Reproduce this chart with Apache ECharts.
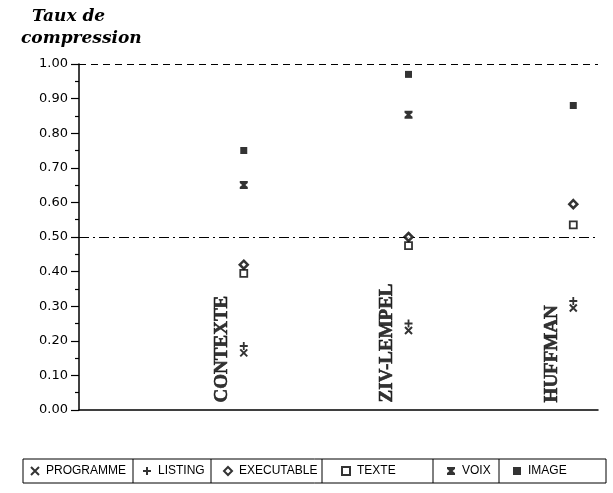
<!DOCTYPE html>
<html><head><meta charset="utf-8">
<script src="https://cdn.jsdelivr.net/npm/echarts@6/dist/echarts.min.js"></script>
<style>html,body{margin:0;padding:0;background:#fff}#c{width:613px;height:493px}</style>
</head><body><div id="c"></div>
<script>
const categories = ['CONTEXTE', 'ZIV-LEMPEL', 'HUFFMAN'];
const seriesNames = ['PROGRAMME', 'LISTING', 'EXECUTABLE', 'TEXTE', 'VOIX', 'IMAGE'];
const programme  = [0.165, 0.23, 0.295];
const listing    = [0.185, 0.25, 0.315];
const executable = [0.42, 0.50, 0.595];
const texte      = [0.395, 0.475, 0.535];
const voix       = [0.65, 0.853, null];
const image      = [0.75, 0.97, 0.88];
const refLines   = [1.0, 0.5];

const values = [programme, listing, executable, texte, voix, image];
const symbols = [
  {symbol: 'path://M0,0L10,10M10,0L0,10', size: 7, style: {color: 'transparent', borderColor: '#000', borderWidth: 2}},
  {symbol: 'path://M5,0L5,10M0,5L10,5', size: 8, style: {color: 'transparent', borderColor: '#000', borderWidth: 1.8}},
  {symbol: 'diamond', size: 8, style: {color: '#fff', borderColor: '#000', borderWidth: 2.5}},
  {symbol: 'rect', size: 7, style: {color: '#fff', borderColor: '#000', borderWidth: 1.8}},
  {symbol: 'path://M0,0H10V2.5L7,5L10,7.5V10H0V7.5L3,5L0,2.5Z', size: 8, style: {color: '#000'}},
  {symbol: 'rect', size: 7, style: {color: '#000'}}
];

const series = seriesNames.map((n, s) => ({
  name: n,
  type: 'scatter',
  symbol: symbols[s].symbol,
  symbolSize: symbols[s].size,
  itemStyle: symbols[s].style,
  data: values[s].map((v, i) => v == null ? null : [i + 1, v]).filter(d => d),
  z: 5
}));

series.push({
  name: 'refs',
  type: 'line',
  data: [],
  markLine: {
    silent: true,
    symbol: 'none',
    label: {show: false},
    data: [
      {yAxis: refLines[0], lineStyle: {color: '#000', width: 1.2, type: [7, 5]}},
      {yAxis: refLines[1], lineStyle: {color: '#000', width: 1.2, type: [10, 4, 2, 4]}}
    ]
  }
});

series.push({
  name: 'cats',
  type: 'scatter',
  symbolSize: 1,
  itemStyle: {color: 'transparent'},
  silent: true,
  data: categories.map((c, i) => ({name: c, value: [i + 1 - 0.13, 0.022]})),
  label: {
    show: true,
    position: 'inside',
    rotate: 90,
    align: 'left',
    verticalAlign: 'middle',
    formatter: p => p.name,
    color: '#000',
    fontFamily: 'Liberation Serif',
    fontWeight: 'bold',
    fontSize: 19,
    textBorderColor: '#000',
    textBorderWidth: 0.6
  }
});

const legendLeft = [30, 142, 223, 341, 447, 513];
const legends = seriesNames.map((n, i) => ({
  data: [n],
  left: legendLeft[i],
  top: 465,
  padding: 0,
  itemWidth: 8,
  itemHeight: 8,
  selectedMode: false,
  textStyle: {fontFamily: 'Liberation Sans', fontSize: 12, color: '#000', padding: [0, 0, 0, 2]}
}));

const cellEdges = [23, 133, 211, 322, 433, 499, 606];
const graphic = [{type: 'rect', shape: {x: 23, y: 459, width: 583, height: 24}, style: {fill: 'none', stroke: '#000', lineWidth: 1}}];
cellEdges.slice(1, -1).forEach(x => graphic.push({type: 'line', shape: {x1: x, y1: 459, x2: x, y2: 483}, style: {stroke: '#000', lineWidth: 1}}));

const chart = echarts.init(document.getElementById('c'));
chart.setOption({
  animation: false,
  backgroundColor: '#fff',
  title: [
    {text: 'Taux de', left: 27, top: 3, textStyle: {fontFamily: 'DejaVu Serif', fontStyle: 'italic', fontWeight: 'bold', fontSize: 17, color: '#000'}},
    {text: 'compression', left: 16, top: 25, textStyle: {fontFamily: 'DejaVu Serif', fontStyle: 'italic', fontWeight: 'bold', fontSize: 17, color: '#000'}}
  ],
  legend: legends,
  graphic: graphic,
  grid: {left: 79, right: 15, top: 64, bottom: 83, containLabel: false},
  xAxis: {
    type: 'value', min: 0, max: 3.15,
    axisLine: {show: true, onZero: false, lineStyle: {color: '#000', width: 1.5}},
    axisTick: {show: false}, axisLabel: {show: false}, splitLine: {show: false}
  },
  yAxis: {
    type: 'value', min: 0, max: 1, interval: 0.1,
    axisLine: {show: true, lineStyle: {color: '#000', width: 1.5}},
    axisTick: {show: true, length: 8, lineStyle: {color: '#000', width: 1.2}},
    minorTick: {show: true, splitNumber: 2, length: 4, lineStyle: {color: '#000', width: 1.2}},
    axisLabel: {margin: 11, color: '#000', fontFamily: 'DejaVu Sans', fontSize: 13, formatter: v => v.toFixed(2)},
    splitLine: {show: false}
  },
  series: series
});
</script></body></html>
